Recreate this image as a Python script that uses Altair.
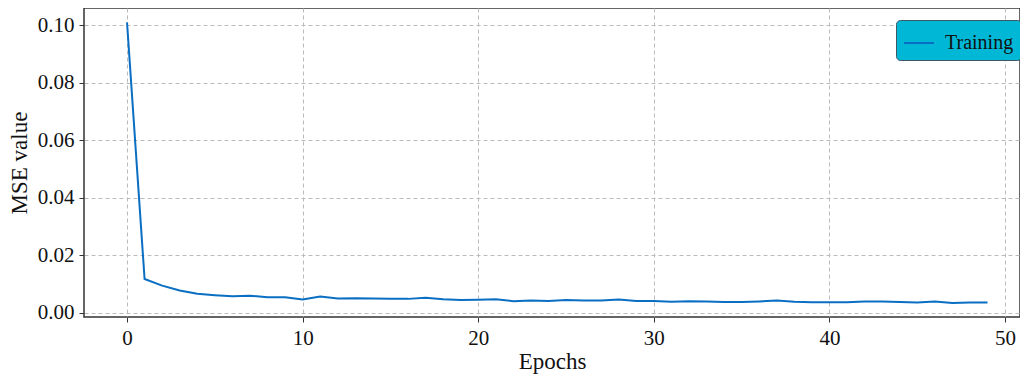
import altair as alt
import pandas as pd

epochs = list(range(50))
mse = [0.101, 0.0118, 0.0095, 0.0078, 0.0067, 0.0062, 0.0058, 0.0060, 0.0055, 0.0055,
       0.0047, 0.0057, 0.0050, 0.0051, 0.0050, 0.0049, 0.0049, 0.0053, 0.0048, 0.0045,
       0.0046, 0.0048, 0.0041, 0.0043, 0.0042, 0.0045, 0.0043, 0.0043, 0.0047, 0.0042,
       0.0042, 0.0039, 0.0041, 0.0040, 0.0038, 0.0038, 0.0040, 0.0043, 0.0039, 0.0037,
       0.0037, 0.0037, 0.0040, 0.0040, 0.0038, 0.0036, 0.0040, 0.0035, 0.0036, 0.0036]
series = ["Training"] * len(epochs)

df = pd.DataFrame({"Epoch": epochs, "MSE": mse, "Series": series})

FONT = "Liberation Serif"

line = alt.Chart(df).mark_line(strokeWidth=2).encode(
    x=alt.X("Epoch:Q", scale=alt.Scale(domain=[-2.45, 50.85], nice=False, zero=False),
            axis=alt.Axis(title="Epochs", values=[0, 10, 20, 30, 40, 50])),
    y=alt.Y("MSE:Q", scale=alt.Scale(domain=[-0.0014, 0.106], nice=False, zero=False),
            axis=alt.Axis(title="MSE value", values=[0, 0.02, 0.04, 0.06, 0.08, 0.10], format=".2f")),
    color=alt.Color("Series:N", scale=alt.Scale(domain=["Training"], range=["#0a6fc2"]),
                    legend=alt.Legend(title=None, orient="none", legendX=812, legendY=12,
                                      fillColor="#00B8D6", strokeColor="#3d5866",
                                      cornerRadius=4, padding=7,
                                      symbolType="stroke", symbolSize=900, symbolStrokeWidth=2,
                                      labelFont=FONT, labelFontSize=20, labelColor="#111",
                                      labelOffset=10)),
)

chart = line.properties(
    width=936, height=309,
    autosize=alt.AutoSizeParams(type="none"),
    padding={"left": 76, "top": 0, "right": 0, "bottom": 60},
).configure_view(
    stroke="#333", strokeWidth=1.5
).configure_axis(
    grid=True, gridDash=[4, 3], gridColor="#bbbbbb", gridWidth=1,
    domain=False, tickColor="#333", tickSize=5, tickWidth=1,
    labelFont=FONT, labelFontSize=21, labelColor="#111", labelPadding=5,
    titleFont=FONT, titleFontSize=23, titleFontWeight="normal", titleColor="#111",
).configure_axisX(titlePadding=2).configure_axisY(titlePadding=6)

chart.save("out.html", embed_options={"renderer": "svg", "actions": False})
